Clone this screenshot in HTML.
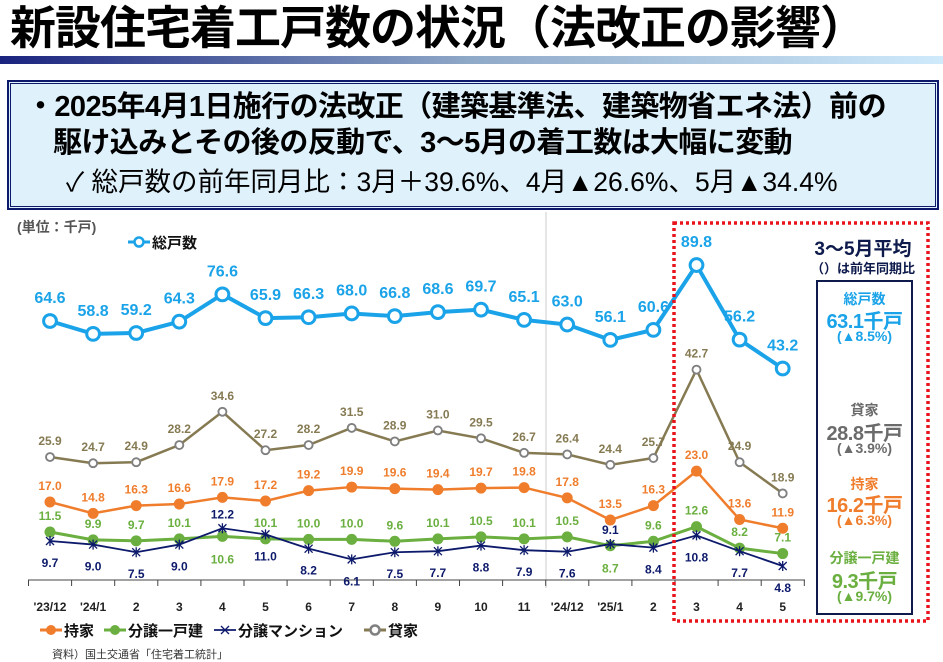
<!DOCTYPE html>
<html><head><meta charset="utf-8">
<style>
body{margin:0;width:943px;height:653px;background:#fff;overflow:hidden;font-family:"Liberation Sans","Noto Sans CJK JP",sans-serif;position:relative}
.abs{position:absolute;white-space:nowrap}
</style></head><body>
<div class="abs" style="left:10px;top:5px;font-size:46px;line-height:1;font-weight:bold;color:#000;letter-spacing:-1px">新設住宅着工戸数の状況（法改正の影響）</div>
<div class="abs" style="left:0;top:56px;width:943px;height:8px;background:linear-gradient(to right,#1a237e,#8fa9c8 50%,#cfeafb)"></div>
<div class="abs" style="left:8px;top:81px;width:924px;height:122px;border:3px double #0d1a6b;outline:1px solid #0d1a6b;background:#dff1fb"></div>
<div class="abs" style="left:26px;top:91px;font-size:29px;line-height:1.15;font-weight:bold;color:#000;letter-spacing:-0.6px">・2025年4月1日施行の法改正（建築基準法、建築物省エネ法）前の</div>
<div class="abs" style="left:53px;top:127px;font-size:29px;line-height:1.15;font-weight:bold;color:#000;letter-spacing:-0.6px">駆け込みとその後の反動で、3～5月の着工数は大幅に変動</div>
<div class="abs" style="left:66px;top:167px;font-size:26.5px;line-height:1.15;color:#000">✓&nbsp;総戸数の前年同月比：3月＋39.6%、4月▲26.6%、5月▲34.4%</div>
<div class="abs" style="left:17px;top:217px;font-size:14px;font-weight:bold;color:#555">(単位：千戸)</div>

<svg class="abs" style="left:0;top:0" width="943" height="653" id="chart"></svg>

<div class="abs" style="left:798px;top:234px;width:130px;text-align:center;font-size:19px;font-weight:bold;color:#0d1a4b">3～5月平均</div>
<div class="abs" style="left:798px;top:258px;width:130px;text-align:center;font-size:13px;font-weight:bold;color:#0d1a4b">（）は前年同期比</div>
<div class="abs" style="left:816px;top:280px;width:93px;height:331px;border:2px solid #0d1a4b;text-align:center;font-weight:bold">
 <div style="position:absolute;top:7px;width:100%;color:#1aa3e8;font-size:14px">総戸数</div>
 <div style="position:absolute;top:23px;width:100%;color:#1aa3e8;font-size:20px;letter-spacing:-0.5px">63.1千戸</div>
 <div style="position:absolute;top:46px;width:100%;color:#1aa3e8;font-size:14px">(▲8.5%)</div>
 <div style="position:absolute;top:118px;width:100%;color:#6b6b6b;font-size:14px">貸家</div>
 <div style="position:absolute;top:135px;width:100%;color:#6b6b6b;font-size:20px;letter-spacing:-0.5px">28.8千戸</div>
 <div style="position:absolute;top:158px;width:100%;color:#6b6b6b;font-size:14px">(▲3.9%)</div>
 <div style="position:absolute;top:192px;width:100%;color:#ef7d2c;font-size:14px">持家</div>
 <div style="position:absolute;top:207px;width:100%;color:#ef7d2c;font-size:20px;letter-spacing:-0.5px">16.2千戸</div>
 <div style="position:absolute;top:230px;width:100%;color:#ef7d2c;font-size:14px">(▲6.3%)</div>
 <div style="position:absolute;top:266px;width:100%;color:#6aaf3f;font-size:14px">分譲一戸建</div>
 <div style="position:absolute;top:283px;width:100%;color:#6aaf3f;font-size:20px;letter-spacing:-0.5px">9.3千戸</div>
 <div style="position:absolute;top:306px;width:100%;color:#6aaf3f;font-size:14px">(▲9.7%)</div>
</div>
<div class="abs" style="left:52px;top:646px;font-size:11px;color:#333">資料）国土交通省「住宅着工統計」</div>

<script>
const categories=["'23/12","'24/1","2","3","4","5","6","7","8","9","10","11","'24/12","'25/1","2","3","4","5"];
const totalVals=[64.6,58.8,59.2,64.3,76.6,65.9,66.3,68.0,66.8,68.6,69.7,65.1,63.0,56.1,60.6,89.8,56.2,43.2];
const rentalVals=[25.9,24.7,24.9,28.2,34.6,27.2,28.2,31.5,28.9,31.0,29.5,26.7,26.4,24.4,25.7,42.7,24.9,18.9];
const ownerVals=[17.0,14.8,16.3,16.6,17.9,17.2,19.2,19.9,19.6,19.4,19.7,19.8,17.8,13.5,16.3,23.0,13.6,11.9];
const houseVals=[11.5,9.9,9.7,10.1,10.6,10.1,10.0,10.0,9.6,10.1,10.5,10.1,10.5,8.7,9.6,12.6,8.2,7.1];
const mansionVals=[9.7,9.0,7.5,9.0,12.2,11.0,8.2,6.1,7.5,7.7,8.8,7.9,7.6,9.1,8.4,10.8,7.7,4.8];
const houseBelow=[0,0,0,0,1,0,0,0,0,0,0,0,0,1,0,0,0,0];
const mansionAbove=[0,0,0,0,1,0,0,0,0,0,0,0,0,1,0,0,0,0];

const svg=document.getElementById('chart');
const NS='http://www.w3.org/2000/svg';
function el(t,a){const e=document.createElementNS(NS,t);for(const k in a)e.setAttribute(k,a[k]);svg.appendChild(e);return e;}
const x=i=>50+i*43.1;
const yTotal=v=>321-(v-64.6)*2.22;
const yRental=v=>457-(v-25.9)*5.2;
const yOwner=v=>502-(v-17)*5.15;
const yHouse=v=>532-(v-11.5)*4.9;
const yMansion=v=>541-(v-9.7)*5.1;

let s=el('line',{x1:546,y1:212,x2:546,y2:588,stroke:'#ccc','stroke-width':1});

let ax=el('line',{x1:28,y1:580,x2:805,y2:580,stroke:'#444','stroke-width':1});

for(let i=0;i<=categories.length;i++){
  let t=el('line',{x1:28.5+i*43.1,y1:580,x2:28.5+i*43.1,y2:586,stroke:'#444'});
  
}
categories.forEach((c,i)=>{
  const t=el('text',{x:x(i),y:611,'text-anchor':'middle','font-size':12,'font-weight':'bold',fill:'#222'});
  t.textContent=c;
  
  
});

function series(vals,yf,color,name,width,marker,labelFn,fs,mcolor){
  const p=el('polyline',{points:vals.map((v,i)=>x(i)+','+yf(v)).join(' '),fill:'none',stroke:color,'stroke-width':width});
  
  
  vals.forEach((v,i)=>{
    const cx=x(i),cy=yf(v);let m;
    if(marker==='ring'){m=el('circle',{cx,cy,r:width*1.6,fill:'#fff',stroke:mcolor||color,'stroke-width':width*0.75});}
    else if(marker==='dot'){m=el('circle',{cx,cy,r:5.5,fill:color});}
    else {m=el('path',{d:`M${cx-4},${cy-4}L${cx+4},${cy+4}M${cx-4},${cy+4}L${cx+4},${cy-4}M${cx},${cy-5}L${cx},${cy+5}`,stroke:color,'stroke-width':1.3});}
    
    
    const ly=labelFn(i,cy);
    const t=el('text',{x:cx,y:ly,'text-anchor':'middle','font-size':fs,'font-weight':'bold',fill:color});
    t.textContent=v.toFixed(1);
    
    
  });
}
series(rentalVals,yRental,'#857a52','rental',2.5,'ring',(i,cy)=>cy-12,12,'#808080');
series(ownerVals,yOwner,'#ef7d2c','owner',2.5,'dot',(i,cy)=>cy-12,12);
series(houseVals,yHouse,'#6aaf3f','detached-sale',3,'dot',(i,cy)=>houseBelow[i]?cy+27:cy-12,12);
series(mansionVals,yMansion,'#0d1a6b','condo',1.8,'x',(i,cy)=>mansionAbove[i]?cy-10:cy+26,12);
series(totalVals,yTotal,'#1aa3e8','total',4,'ring',(i,cy)=>cy-18,16);

function legend(lx,ly,color,label,marker,name,mcolor){
  const l=el('line',{x1:lx,y1:ly,x2:lx+22,y2:ly,stroke:color,'stroke-width':marker==='x'?1.8:3});
  
  let m;
  if(marker==='ring')m=el('circle',{cx:lx+11,cy:ly,r:4.5,fill:'#fff',stroke:mcolor||color,'stroke-width':2.5});
  else if(marker==='dot')m=el('circle',{cx:lx+11,cy:ly,r:5,fill:color});
  else m=el('path',{d:`M${lx+7},${ly-4}L${lx+15},${ly+4}M${lx+7},${ly+4}L${lx+15},${ly-4}`,stroke:color,'stroke-width':1.3});
  
  const t=el('text',{x:lx+24,y:ly+6,'font-size':15,'font-weight':'bold',fill:'#111'});
  t.textContent=label;
  
  
}
legend(128,242,'#1aa3e8','総戸数','ring','total');
legend(40,630,'#ef7d2c','持家','dot','owner');
legend(104,630,'#6aaf3f','分譲一戸建','dot','detached-sale');
legend(214,630,'#0d1a6b','分譲マンション','x','condo');
legend(364,630,'#857a52','貸家','ring','rental','#808080');

let box=el('rect',{x:674,y:223,width:254,height:398,fill:'none',stroke:'#e8131b','stroke-width':3.5,'stroke-dasharray':'3 3'});

</script>
</body></html>
